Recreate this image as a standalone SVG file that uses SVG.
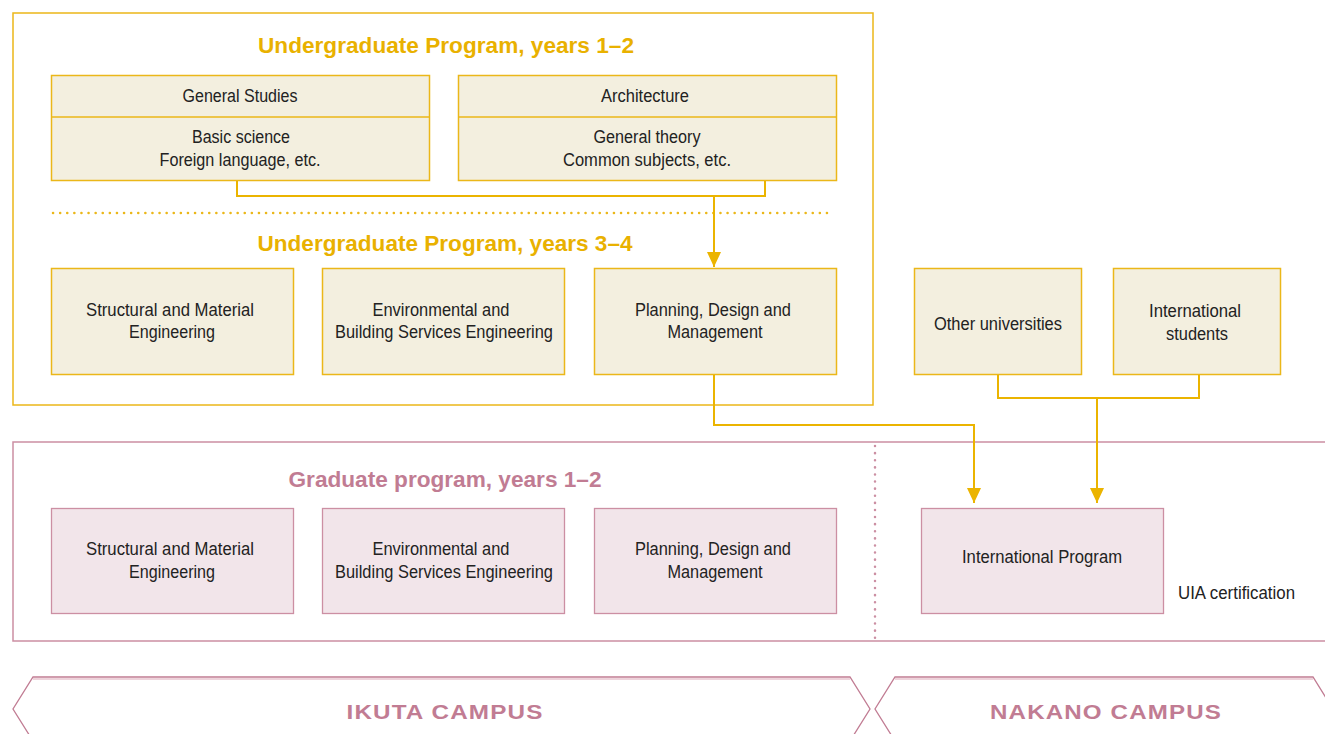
<svg xmlns="http://www.w3.org/2000/svg" width="1325" height="734" viewBox="0 0 1325 734">
<defs>
<style>
.t{font-family:"Liberation Sans",Arial,sans-serif;font-size:17.5px;fill:#222;text-anchor:middle}
.ttl{font-family:"Liberation Sans",Arial,sans-serif;font-weight:bold;font-size:21.5px;text-anchor:middle}
.y{fill:#e9b100}
.p{fill:#c17c93}
.yb{fill:#f3efdf;stroke:#ebb719;stroke-width:1.5}
.pb{fill:#f2e5ea;stroke:#cc8fa3;stroke-width:1.3}
.cn{fill:none;stroke:#ebb400;stroke-width:2}
.camp{font-family:"Liberation Sans",Arial,sans-serif;font-weight:bold;font-size:21px;letter-spacing:1px;fill:#c17c93;text-anchor:middle}
</style>
<marker id="ah" viewBox="0 0 15 14" refX="15" refY="7" markerWidth="15" markerHeight="14" markerUnits="userSpaceOnUse" orient="auto">
<path d="M0,0 L15,7 L0,14 Z" fill="#ebb400"/>
</marker>
</defs>

<g id="undergrad-frame">
<rect x="13" y="13" width="860" height="392" fill="none" stroke="#ebb719" stroke-width="1.5"/>
<text class="ttl y" x="446" y="53" textLength="376" lengthAdjust="spacingAndGlyphs">Undergraduate Program, years 1–2</text>
<line x1="53" y1="213" x2="830" y2="213" stroke="#ebb719" stroke-width="2.5" stroke-dasharray="0.1 7" stroke-linecap="round"/>
<text class="ttl y" x="445" y="251" textLength="375" lengthAdjust="spacingAndGlyphs">Undergraduate Program, years 3–4</text>
</g>

<g id="grad-frame">
<path d="M1325,442 H13 V641 H1325" fill="none" stroke="#cc8fa3" stroke-width="1.5"/>
<line x1="875" y1="446" x2="875" y2="640" stroke="#cc8fa3" stroke-width="2.5" stroke-dasharray="0.1 7" stroke-linecap="round"/>
<text class="ttl p" x="445" y="487" textLength="313" lengthAdjust="spacingAndGlyphs">Graduate program, years 1–2</text>
</g>

<g id="general-studies">
<rect class="yb" x="51.5" y="75.5" width="378" height="105"/>
<line x1="51.5" y1="117" x2="429.5" y2="117" stroke="#ebb719" stroke-width="1.5"/>
<text class="t" x="240" y="102" textLength="115" lengthAdjust="spacingAndGlyphs">General Studies</text>
<text class="t" x="241" y="143" textLength="98" lengthAdjust="spacingAndGlyphs">Basic science</text>
<text class="t" x="240" y="166" textLength="161" lengthAdjust="spacingAndGlyphs">Foreign language, etc.</text>
</g>

<g id="architecture">
<rect class="yb" x="458.5" y="75.5" width="378" height="105"/>
<line x1="458.5" y1="117" x2="836.5" y2="117" stroke="#ebb719" stroke-width="1.5"/>
<text class="t" x="645" y="102" textLength="88" lengthAdjust="spacingAndGlyphs">Architecture</text>
<text class="t" x="647" y="143" textLength="107" lengthAdjust="spacingAndGlyphs">General theory</text>
<text class="t" x="647" y="166" textLength="168" lengthAdjust="spacingAndGlyphs">Common subjects, etc.</text>
</g>

<g id="ug-structural">
<rect class="yb" x="51.5" y="268.5" width="242" height="106"/>
<text class="t" x="170" y="316" textLength="168" lengthAdjust="spacingAndGlyphs">Structural and Material</text>
<text class="t" x="172" y="338" textLength="86" lengthAdjust="spacingAndGlyphs">Engineering</text>
</g>
<g id="ug-environmental">
<rect class="yb" x="322.5" y="268.5" width="242" height="106"/>
<text class="t" x="441" y="316" textLength="137" lengthAdjust="spacingAndGlyphs">Environmental and</text>
<text class="t" x="444" y="338" textLength="218" lengthAdjust="spacingAndGlyphs">Building Services Engineering</text>
</g>
<g id="ug-planning">
<rect class="yb" x="594.5" y="268.5" width="242" height="106"/>
<text class="t" x="713" y="316" textLength="156" lengthAdjust="spacingAndGlyphs">Planning, Design and</text>
<text class="t" x="715" y="338" textLength="95" lengthAdjust="spacingAndGlyphs">Management</text>
</g>

<g id="other-universities">
<rect class="yb" x="914.5" y="268.5" width="167" height="106"/>
<text class="t" x="998" y="330" textLength="128" lengthAdjust="spacingAndGlyphs">Other universities</text>
</g>
<g id="international-students">
<rect class="yb" x="1113.5" y="268.5" width="167" height="106"/>
<text class="t" x="1195" y="317" textLength="92" lengthAdjust="spacingAndGlyphs">International</text>
<text class="t" x="1197" y="340" textLength="62" lengthAdjust="spacingAndGlyphs">students</text>
</g>

<g id="gr-structural">
<rect class="pb" x="51.5" y="508.5" width="242" height="105"/>
<text class="t" x="170" y="555" textLength="168" lengthAdjust="spacingAndGlyphs">Structural and Material</text>
<text class="t" x="172" y="578" textLength="86" lengthAdjust="spacingAndGlyphs">Engineering</text>
</g>
<g id="gr-environmental">
<rect class="pb" x="322.5" y="508.5" width="242" height="105"/>
<text class="t" x="441" y="555" textLength="137" lengthAdjust="spacingAndGlyphs">Environmental and</text>
<text class="t" x="444" y="578" textLength="218" lengthAdjust="spacingAndGlyphs">Building Services Engineering</text>
</g>
<g id="gr-planning">
<rect class="pb" x="594.5" y="508.5" width="242" height="105"/>
<text class="t" x="713" y="555" textLength="156" lengthAdjust="spacingAndGlyphs">Planning, Design and</text>
<text class="t" x="715" y="578" textLength="95" lengthAdjust="spacingAndGlyphs">Management</text>
</g>
<g id="international-program">
<rect class="pb" x="921.5" y="508.5" width="242" height="105"/>
<text class="t" x="1042" y="563" textLength="160" lengthAdjust="spacingAndGlyphs">International Program</text>
</g>
<g id="uia">
<text class="t" x="1178" y="599" style="text-anchor:start" textLength="117" lengthAdjust="spacingAndGlyphs">UIA certification</text>
</g>

<g id="connectors">
<path class="cn" d="M237,181 V196 H765 V181"/>
<path class="cn" d="M714,196 V267" marker-end="url(#ah)"/>
<path class="cn" d="M714,375 V425 H974 V503" marker-end="url(#ah)"/>
<path class="cn" d="M998,375 V398 H1199 V375"/>
<path class="cn" d="M1097,398 V503" marker-end="url(#ah)"/>
</g>

<g id="ikuta-campus">
<path d="M33,741 L13,709 L33,677 H850 L870,709 L850,741" fill="none" stroke="#c17c93" stroke-width="1.3"/>
<line x1="33" y1="679" x2="850" y2="679" stroke="#e8c4cf" stroke-width="1.5"/>
<text class="camp" x="445" y="719" textLength="197" lengthAdjust="spacingAndGlyphs">IKUTA CAMPUS</text>
</g>
<g id="nakano-campus">
<path d="M895,741 L875,709 L895,677 H1313 L1333,709" fill="none" stroke="#c17c93" stroke-width="1.3"/>
<line x1="895" y1="679" x2="1313" y2="679" stroke="#e8c4cf" stroke-width="1.5"/>
<text class="camp" x="1106" y="719" textLength="232" lengthAdjust="spacingAndGlyphs">NAKANO CAMPUS</text>
</g>
</svg>
